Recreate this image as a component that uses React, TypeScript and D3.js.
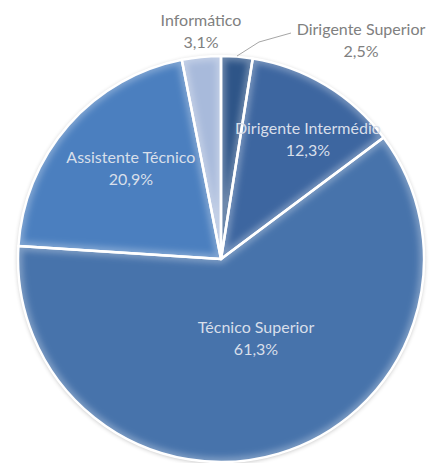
import React from "react";
import * as d3 from "d3";

const categories = [
  "Dirigente Superior",
  "Dirigente Intermédio",
  "Técnico Superior",
  "Assistente Técnico",
  "Informático",
];
const shares = [2.5, 12.3, 61.3, 20.9, 3.1];
const shareLabels = ["2,5%", "12,3%", "61,3%", "20,9%", "3,1%"];
const colors = ["#2f5588", "#3d66a0", "#4673ab", "#4b7fbf", "#a8badb"];

const width = 430;
const height = 463;
const cx = 221;
const cy = 259;
const radius = 203;
const lineGap = 22;

// inside labels: [fraction of radius, angle shift in degrees] from the slice middle; null = outside
const labelPlace: ([number, number] | null)[] = [null, [0.75, 3.7], [0.403, -8.8], [0.648, 5.5], null];

export default function App() {
  const data = categories.map((c, i) => ({ name: c, value: shares[i], label: shareLabels[i], color: colors[i] }));
  const pie = d3.pie<any>().value((d) => d.value).sort(null);
  const arcs = pie(data);
  const arc = d3.arc<any>().innerRadius(0).outerRadius(radius);

  return (
    <div style={{ position: "absolute", left: 0, top: 0 }}>
      <svg width={width} height={height} style={{ display: "block", background: "#fff" }}>
        <defs>
          <filter id="shadow" x="-10%" y="-10%" width="120%" height="120%">
            <feGaussianBlur in="SourceAlpha" stdDeviation="2.5" />
            <feOffset dx="0" dy="1" result="b" />
            <feComponentTransfer>
              <feFuncA type="linear" slope="0.3" />
            </feComponentTransfer>
            <feMerge>
              <feMergeNode />
              <feMergeNode in="SourceGraphic" />
            </feMerge>
          </filter>
          <filter id="soft" x="-10%" y="-10%" width="120%" height="120%">
            <feGaussianBlur stdDeviation="3" />
          </filter>
          {arcs.map((a, i) => (
            <clipPath key={i} id={`clip${i}`}>
              <path d={arc(a) as string} transform={`translate(${cx},${cy})`} />
            </clipPath>
          ))}
        </defs>
        <g filter="url(#shadow)">
          <g transform={`translate(${cx},${cy})`}>
            {arcs.map((a, i) => (
              <path key={i} d={arc(a) as string} fill={a.data.color} />
            ))}
          </g>
        </g>
        {arcs.map((a, i) => (
          <g key={i} clipPath={`url(#clip${i})`}>
            <path
              d={arc(a) as string}
              transform={`translate(${cx},${cy})`}
              fill="none"
              stroke="#ffffff"
              strokeOpacity={0.3}
              strokeWidth={9}
              filter="url(#soft)"
            />
          </g>
        ))}
        <g transform={`translate(${cx},${cy})`}>
          {arcs.map((a, i) => (
            <path key={i} d={arc(a) as string} fill="none" stroke="#ffffff" strokeWidth={2.5} strokeLinejoin="round" />
          ))}
        </g>
        <g fontFamily="Lato, 'Open Sans', sans-serif" fontSize={16} textAnchor="middle">
          {arcs.map((a, i) => {
            const place = labelPlace[i];
            if (place === null) return null;
            const ang = (a.startAngle + a.endAngle) / 2 + (place[1] * Math.PI) / 180;
            const r = radius * place[0];
            const x = cx + r * Math.sin(ang);
            const y = cy - r * Math.cos(ang);
            return (
              <text key={i} x={x} y={y} fill="#d8dfea">
                <tspan x={x}>{a.data.name}</tspan>
                <tspan x={x} dy={lineGap}>{a.data.label}</tspan>
              </text>
            );
          })}
          <text x={201} y={26} fill="#808080">
            <tspan x={201}>{categories[4]}</tspan>
            <tspan x={201} dy={lineGap}>{shareLabels[4]}</tspan>
          </text>
          <text x={361} y={35} fill="#808080">
            <tspan x={361}>{categories[0]}</tspan>
            <tspan x={361} dy={lineGap}>{shareLabels[0]}</tspan>
          </text>
        </g>
        <polyline points="237,56 259,42 291,33" fill="none" stroke="#a6a6a6" strokeWidth={1} />
      </svg>
    </div>
  );
}
